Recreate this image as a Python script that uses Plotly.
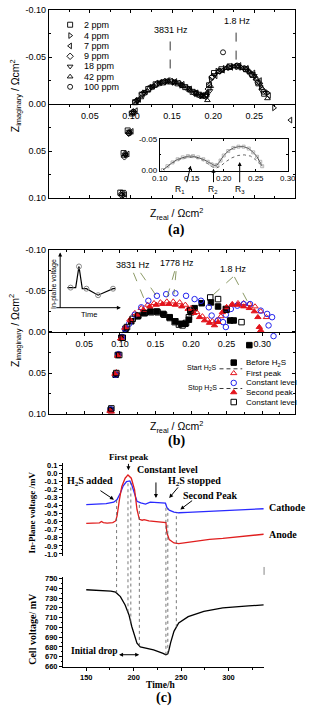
import numpy as np
import plotly.graph_objects as go

W, H = 310, 711
SANS = "Liberation Sans, Arial, sans-serif"
SERIF = "Liberation Serif, Times New Roman, serif"

# ---------------- Panel (a) data : Nyquist plots for H2S concentrations ----------------
a_names = ["2 ppm", "4 ppm", "7 ppm", "9 ppm", "18 ppm", "42 ppm", "100 ppm"]
a_symbols = ["square-open", "triangle-right-open", "triangle-left-open", "diamond-open",
             "triangle-down-open", "triangle-up-open", "circle-open"]
a_x_2 = [0.087, 0.091, 0.096, 0.101, 0.105, 0.113, 0.121, 0.130, 0.139, 0.148, 0.157, 0.166, 0.175, 0.183, 0.190,
         0.195, 0.201, 0.210, 0.220, 0.230, 0.240, 0.248, 0.255, 0.262]
a_y_2 = [0.094, 0.052, 0.028, 0.010, -0.002, -0.010, -0.016, -0.021, -0.023, -0.024, -0.022, -0.018, -0.013, -0.010, -0.009,
         -0.020, -0.033, -0.037, -0.040, -0.040, -0.037, -0.031, -0.022, -0.011]
a_x_4 = [0.091, 0.094, 0.099, 0.104, 0.108, 0.116, 0.125, 0.134, 0.143, 0.152, 0.161, 0.170, 0.179, 0.186, 0.192,
         0.197, 0.205, 0.214, 0.224, 0.234, 0.243, 0.251, 0.258, 0.266, 0.274]
a_y_4 = [0.097, 0.054, 0.030, 0.008, -0.004, -0.012, -0.018, -0.022, -0.024, -0.023, -0.020, -0.016, -0.011, -0.009, -0.010,
         -0.026, -0.035, -0.038, -0.040, -0.039, -0.035, -0.029, -0.019, -0.012, 0.004]
a_x_7 = [0.093, 0.096, 0.101, 0.106, 0.110, 0.118, 0.127, 0.136, 0.145, 0.154, 0.163, 0.172, 0.180, 0.187, 0.193,
         0.196, 0.203, 0.212, 0.222, 0.232, 0.241, 0.249, 0.257, 0.268, 0.294]
a_y_7 = [0.096, 0.053, 0.029, 0.007, -0.005, -0.013, -0.019, -0.023, -0.025, -0.024, -0.021, -0.016, -0.012, -0.009, -0.012,
         -0.021, -0.030, -0.036, -0.039, -0.041, -0.038, -0.033, -0.025, -0.009, 0.017]
a_x_9 = [0.089, 0.092, 0.097, 0.102, 0.106, 0.114, 0.123, 0.132, 0.141, 0.150, 0.159, 0.168, 0.177, 0.184, 0.191,
         0.194, 0.199, 0.208, 0.218, 0.228, 0.238, 0.246, 0.253, 0.260]
a_y_9 = [0.095, 0.056, 0.031, 0.009, -0.003, -0.011, -0.017, -0.022, -0.024, -0.024, -0.022, -0.017, -0.012, -0.009, -0.008,
         -0.016, -0.029, -0.035, -0.039, -0.040, -0.038, -0.032, -0.026, -0.015]
a_x_18 = [0.090, 0.093, 0.098, 0.103, 0.107, 0.115, 0.124, 0.133, 0.142, 0.151, 0.160, 0.169, 0.178, 0.185, 0.192,
          0.196, 0.202, 0.211, 0.221, 0.231, 0.241, 0.250, 0.257, 0.264]
a_y_18 = [0.093, 0.054, 0.029, 0.009, -0.003, -0.011, -0.018, -0.022, -0.024, -0.023, -0.021, -0.017, -0.012, -0.009, -0.009,
          -0.014, -0.031, -0.036, -0.039, -0.040, -0.036, -0.030, -0.021, -0.012]
a_x_42 = [0.088, 0.092, 0.097, 0.102, 0.106, 0.112, 0.120, 0.128, 0.137, 0.146, 0.155, 0.164, 0.173, 0.181, 0.188, 0.193,
          0.197, 0.206, 0.216, 0.226, 0.236, 0.245, 0.252, 0.259, 0.266]
a_y_42 = [0.096, 0.055, 0.030, 0.010, -0.001, -0.007, -0.014, -0.019, -0.023, -0.024, -0.023, -0.019, -0.014, -0.010, -0.008, -0.004,
          -0.019, -0.034, -0.038, -0.040, -0.038, -0.034, -0.027, -0.017, -0.006]
a_x_100 = [0.089, 0.093, 0.098, 0.103, 0.108, 0.117, 0.126, 0.135, 0.144, 0.153, 0.162, 0.171, 0.179, 0.186, 0.192,
           0.198, 0.207, 0.212, 0.219, 0.229, 0.239, 0.247, 0.254, 0.261]
a_y_100 = [0.097, 0.053, 0.031, 0.008, -0.004, -0.012, -0.018, -0.022, -0.024, -0.023, -0.020, -0.016, -0.012, -0.009, -0.010,
           -0.028, -0.035, -0.055, -0.039, -0.041, -0.037, -0.031, -0.023, -0.013]
a_xs = [a_x_2, a_x_4, a_x_7, a_x_9, a_x_18, a_x_42, a_x_100]
a_ys = [a_y_2, a_y_4, a_y_7, a_y_9, a_y_18, a_y_42, a_y_100]

# inset of (a): measured vs fitted
ins_x_fit = [0.105, 0.112, 0.120, 0.128, 0.136, 0.144, 0.152, 0.160, 0.168, 0.175, 0.181, 0.186, 0.190, 0.195,
             0.200, 0.207, 0.215, 0.223, 0.231, 0.239, 0.246, 0.252, 0.257, 0.260]
ins_y_fit = [-0.001, -0.007, -0.013, -0.018, -0.021, -0.023, -0.023, -0.021, -0.018, -0.014, -0.010, -0.008, -0.009, -0.016,
             -0.024, -0.031, -0.036, -0.038, -0.038, -0.035, -0.029, -0.022, -0.014, -0.007]
ins_x_dot = [0.105, 0.115, 0.125, 0.135, 0.145, 0.155, 0.165, 0.175, 0.182, 0.188, 0.195, 0.203, 0.212, 0.222,
             0.232, 0.242, 0.250, 0.257, 0.260]
ins_y_dot = [-0.001, -0.009, -0.015, -0.019, -0.021, -0.021, -0.018, -0.011, -0.006, -0.004, -0.007, -0.014, -0.020, -0.024,
             -0.025, -0.023, -0.017, -0.010, -0.005]

# ---------------- Panel (b) data ----------------
b_names = ["Before H<sub>2</sub>S", "First peak", "Constant level", "Second peak", "Constant level"]
b_x_before = [0.087, 0.094, 0.097, 0.102, 0.108, 0.116, 0.125, 0.134, 0.143, 0.152, 0.161, 0.170, 0.178, 0.186, 0.192,
              0.197, 0.200, 0.205, 0.215, 0.228, 0.238, 0.249, 0.255, 0.260, 0.282]
b_y_before = [0.095, 0.052, 0.028, 0.007, -0.004, -0.013, -0.019, -0.023, -0.025, -0.025, -0.022, -0.018, -0.013, -0.010, -0.010,
              -0.015, -0.024, -0.029, -0.035, -0.036, -0.031, -0.028, -0.014, -0.014, 0.016]
b_x_first = [0.088, 0.095, 0.098, 0.103, 0.108, 0.114, 0.121, 0.130, 0.139, 0.148, 0.157, 0.166, 0.175, 0.184, 0.192,
             0.200, 0.208, 0.216, 0.223, 0.230, 0.236, 0.242, 0.250, 0.258, 0.266, 0.274, 0.282, 0.290, 0.298, 0.306]
b_y_first = [0.097, 0.049, 0.027, 0.006, -0.006, -0.015, -0.023, -0.029, -0.033, -0.035, -0.036, -0.037, -0.037, -0.036, -0.033,
             -0.029, -0.024, -0.019, -0.015, -0.013, -0.014, -0.019, -0.030, -0.034, -0.035, -0.035, -0.034, -0.031, -0.025, -0.018]
b_x_const1 = [0.087, 0.094, 0.098, 0.103, 0.107, 0.113, 0.121, 0.130, 0.140, 0.152, 0.165, 0.178, 0.193, 0.205, 0.214,
              0.225, 0.229, 0.238, 0.245, 0.249, 0.249, 0.256, 0.265, 0.274, 0.283, 0.298, 0.307, 0.309, 0.314, 0.316]
b_y_const1 = [0.094, 0.052, 0.027, 0.006, -0.004, -0.010, -0.021, -0.030, -0.038, -0.044, -0.046, -0.047, -0.044, -0.040, -0.038,
              -0.030, -0.020, -0.014, -0.012, -0.006, -0.021, -0.028, -0.032, -0.034, -0.034, -0.026, -0.022, -0.008, -0.018, 0.005]
b_x_second = [0.086, 0.093, 0.097, 0.101, 0.107, 0.115, 0.124, 0.133, 0.142, 0.151, 0.160, 0.169, 0.178, 0.187, 0.196,
              0.204, 0.212, 0.219, 0.226, 0.233, 0.238, 0.244, 0.250, 0.258, 0.266, 0.274, 0.282, 0.289, 0.294, 0.296, 0.298]
b_y_second = [0.096, 0.051, 0.029, 0.008, -0.005, -0.014, -0.021, -0.027, -0.031, -0.033, -0.034, -0.034, -0.033, -0.031, -0.028,
              -0.023, -0.018, -0.014, -0.011, -0.008, -0.012, -0.024, -0.030, -0.033, -0.033, -0.031, -0.029, -0.025, -0.018, -0.006, -0.002]
b_x_const2 = [0.088, 0.095, 0.099, 0.104, 0.110, 0.118, 0.126, 0.135, 0.144, 0.153, 0.162, 0.170, 0.177, 0.183, 0.188,
              0.193, 0.197, 0.199, 0.227, 0.238, 0.250, 0.271]
b_y_const2 = [0.093, 0.050, 0.028, 0.007, -0.006, -0.016, -0.020, -0.023, -0.024, -0.024, -0.021, -0.017, -0.012, -0.009, -0.008,
              -0.011, -0.018, -0.026, -0.042, -0.040, -0.027, -0.012]
b_xs = [b_x_before, b_x_first, b_x_const1, b_x_second, b_x_const2]
b_ys = [b_y_before, b_y_first, b_y_const1, b_y_second, b_y_const2]
b_symbols = ["square", "triangle-up-open", "circle-open", "triangle-up", "square-open"]
b_colors = ["black", "#e3141c", "#2424ee", "#e3141c", "black"]

# schematic in-plane voltage vs time (inset of b)
sch_t = [1.2, 1.75, 2.6, 3.15, 3.7, 4.4, 6.35, 8.85, 9.2]
sch_v = [3.7, 3.7, 3.7, 7.6, 3.5, 3.5, 2.3, 3.5, 3.5]
sch_mark_t = [1.75, 3.15, 4.4, 6.35, 8.85]
sch_mark_v = [3.7, 7.6, 3.5, 2.3, 3.5]

# ---------------- Panel (c) data ----------------
cath_t = [150, 160, 168, 171, 179, 182.5, 186, 189, 192.5, 196, 198, 201, 203.5, 207.5, 212.5, 217.5, 227.5, 233.5,
          235, 237.5, 242.5, 247.5, 257, 267.5, 280, 294, 310, 325, 337]
cath_v = [-0.385, -0.38, -0.37, -0.374, -0.355, -0.323, -0.24, -0.15, -0.097, -0.089, -0.139, -0.262, -0.343, -0.364, -0.378,
          -0.355, -0.362, -0.368, -0.42, -0.454, -0.478, -0.487, -0.481, -0.474, -0.466, -0.458, -0.45, -0.443, -0.437]
anode_t = [150, 158, 164, 166, 168, 172, 178, 181, 182.5, 185, 187.5, 191, 194, 197.5, 201, 203.5, 206, 209, 211, 216, 222,
           227.5, 234, 235, 237.5, 242.5, 247.5, 257, 267.5, 280, 294, 310, 325, 337]
anode_v = [-0.62, -0.618, -0.612, -0.595, -0.61, -0.615, -0.61, -0.589, -0.527, -0.323, -0.158, -0.056, -0.015, -0.056, -0.2,
           -0.446, -0.569, -0.58, -0.572, -0.589, -0.595, -0.601, -0.61, -0.733, -0.822, -0.864, -0.872, -0.855, -0.835, -0.82,
           -0.807, -0.79, -0.772, -0.755]
cell_t = [150, 167.5, 176, 181, 186, 191, 195, 198, 201, 203.5, 207, 211.5, 221, 231, 234, 236, 237, 239, 242.5, 247.5,
          257.5, 274, 294, 321, 337]
cell_v = [738.5, 738, 737, 736, 731.5, 723, 713, 701, 691, 684, 680, 679, 677, 673.5, 672, 673, 676, 684.5, 696, 704.5,
          711, 716.5, 720, 722, 723]
event_t = [182, 194, 197, 206, 234, 236, 245]

# ---------------- geometry helpers ----------------
def dx(p0, p1):
    return [p0 / W, p1 / W]

def dy(top, bottom):
    return [1 - bottom / H, 1 - top / H]

def to_paper(v, dom, rng):
    return dom[0] + (v - rng[0]) / (rng[1] - rng[0]) * (dom[1] - dom[0])

A_X, A_Y = dx(43, 303), dy(5, 196)
A_XR, A_YR = [0, 0.30], [0.10, -0.10]
AI_X, AI_Y = dx(160, 295), dy(136, 168)
AI_XR, AI_YR = [0.10, 0.30], [0.0, -0.05]
B_X, B_Y = dx(43, 303), dy(248.3, 415)
B_XR, B_YR = [0, 0.3467], [0.10, -0.10]
S_X, S_Y = dx(55, 118), dy(252, 307)
C1_X, C1_Y = dx(58, 270), dy(465, 559)
C_XR, C1_YR = [125.5, 337.5], [-1.028, 0.128]
C2_X, C2_Y = dx(58, 270), dy(580, 671)
C2_YR = [660, 751.7]

fig = go.Figure()
blk = "black"

# (a) series
for nm, sym, xs, ys in zip(a_names, a_symbols, a_xs, a_ys):
    fig.add_trace(go.Scatter(x=xs, y=ys, mode="markers", name=nm, xaxis="x", yaxis="y", showlegend=False,
                             marker=dict(symbol=sym, size=5, color=blk, line=dict(width=0.9, color=blk))))
fig.add_trace(go.Scatter(x=[0.1477, 0.1477], y=[-0.0665, -0.0277], mode="lines", xaxis="x", yaxis="y",
                         line=dict(color=blk, width=0.8, dash="dash"), showlegend=False))
fig.add_trace(go.Scatter(x=[0.2279, 0.2279], y=[-0.0759, -0.0424], mode="lines", xaxis="x", yaxis="y",
                         line=dict(color=blk, width=0.8, dash="dash"), showlegend=False))
fig.add_trace(go.Scatter(x=[0.1], y=[0], mode="markers", xaxis="x2", yaxis="y", marker=dict(opacity=0),
                         showlegend=False, hoverinfo="skip"))
# (a) inset
fig.add_trace(go.Scatter(x=ins_x_dot, y=ins_y_dot, mode="lines", xaxis="x3", yaxis="y3", showlegend=False,
                         line=dict(color="#666", width=1, dash="dot")))
fig.add_trace(go.Scatter(x=ins_x_fit, y=ins_y_fit, mode="lines+markers", xaxis="x3", yaxis="y3", showlegend=False,
                         line=dict(color="#444", width=1),
                         marker=dict(symbol="square-open", size=3, color="#999", line=dict(width=0.7, color="#999"))))

# (b) series
for nm, sym, col, xs, ys in zip(b_names, b_symbols, b_colors, b_xs, b_ys):
    fig.add_trace(go.Scatter(x=xs, y=ys, mode="markers", name=nm, xaxis="x4", yaxis="y4", showlegend=False,
                             marker=dict(symbol=sym, size=5.5, color=col, line=dict(width=1, color=col))))
GRN = "#6f8040"
b_freq_lines = [([0.119, 0.136], [-0.072, -0.036]), ([0.129, 0.156], [-0.072, -0.038]),
                ([0.177, 0.163], [-0.074, -0.032]), ([0.179, 0.176], [-0.074, -0.046]),
                ([0.259, 0.227], [-0.067, -0.042]), ([0.261, 0.280], [-0.067, -0.036])]
for xs, ys in b_freq_lines:
    fig.add_trace(go.Scatter(x=xs, y=ys, mode="lines", xaxis="x4", yaxis="y4", showlegend=False,
                             line=dict(color=GRN, width=0.8, dash="dash")))
fig.add_trace(go.Scatter(x=[0.1], y=[0], mode="markers", xaxis="x5", yaxis="y4", marker=dict(opacity=0),
                         showlegend=False, hoverinfo="skip"))
# (b) schematic inset
fig.add_trace(go.Scatter(x=sch_t, y=sch_v, mode="lines", xaxis="x6", yaxis="y6", showlegend=False,
                         line=dict(color=blk, width=1.2)))
fig.add_trace(go.Scatter(x=sch_mark_t, y=sch_mark_v, mode="markers", xaxis="x6", yaxis="y6", showlegend=False,
                         marker=dict(symbol="circle-open", size=5, color="#888", line=dict(width=1, color="#888"))))

# (c)
fig.add_trace(go.Scatter(x=cath_t, y=cath_v, mode="lines", xaxis="x7", yaxis="y7", showlegend=False,
                         line=dict(color="#2a2aff", width=1.3)))
fig.add_trace(go.Scatter(x=anode_t, y=anode_v, mode="lines", xaxis="x7", yaxis="y7", showlegend=False,
                         line=dict(color="#e01e1e", width=1.3)))
fig.add_trace(go.Scatter(x=cell_t, y=cell_v, mode="lines", xaxis="x8", yaxis="y8", showlegend=False,
                         line=dict(color=blk, width=1.3)))

# legends drawn on a pixel overlay
leg_a_rows = [20, 31, 41.5, 52, 62.3, 72.7, 83]
for sym, py in zip(a_symbols, leg_a_rows):
    fig.add_trace(go.Scatter(x=[65.5], y=[py], mode="markers", xaxis="x9", yaxis="y9", showlegend=False, cliponaxis=False,
                             marker=dict(symbol=sym, size=5, color=blk, line=dict(width=0.9, color=blk))))
leg_b_rows = [362.7, 373.5, 383.3, 392.9, 402.7]
for sym, col, py in zip(b_symbols, b_colors, leg_b_rows):
    fig.add_trace(go.Scatter(x=[238], y=[py], mode="markers", xaxis="x9", yaxis="y9", showlegend=False, cliponaxis=False,
                             marker=dict(symbol=sym, size=5.5, color=col, line=dict(width=1, color=col))))
for py in [369, 389]:
    fig.add_trace(go.Scatter(x=[223, 247], y=[py, py], mode="lines", xaxis="x9", yaxis="y9", showlegend=False,
                             line=dict(color=blk, width=0.8, dash="4px,3px")))

# ---------------- axes ----------------
base = dict(showgrid=False, zeroline=False, linecolor=blk, linewidth=1, tickcolor=blk, tickwidth=1)
tf9 = dict(size=9, family=SANS, color=blk)
tf8b = dict(size=7.5, family=SANS, color=blk, weight="bold")

def lab(vals, fmt="{:.2f}"):
    return [fmt.format(v) for v in vals]

a_yt = [-0.10, -0.05, 0.0, 0.05, 0.10]
c_yt = [round(0.1 - 0.1 * i, 1) for i in range(12)]
lay = dict(
    xaxis=dict(base, domain=A_X, range=A_XR, anchor="y", showline=True, mirror="ticks", ticks="inside", ticklen=3,
               tickmode="linear", tick0=0, dtick=0.05, showticklabels=False,
               minor=dict(ticks="inside", ticklen=2, tickmode="linear", tick0=0, dtick=0.025)),
    xaxis2=dict(base, overlaying="x", anchor="free", position=to_paper(0, A_Y, A_YR), range=A_XR, side="bottom",
                showline=True, ticks="outside", ticklen=3, tickmode="array",
                tickvals=[0.05, 0.10, 0.15, 0.20, 0.25], ticktext=lab([0.05, 0.10, 0.15, 0.20, 0.25]), tickfont=tf9,
                minor=dict(ticks="outside", ticklen=2, tickmode="linear", tick0=0, dtick=0.025)),
    yaxis=dict(base, domain=A_Y, range=A_YR, anchor="x", showline=True, mirror="ticks", ticks="inside", ticklen=3,
               tickmode="array", tickvals=a_yt, ticktext=lab(a_yt), tickfont=tf9,
               minor=dict(ticks="inside", ticklen=2, tickmode="linear", tick0=0, dtick=0.025)),
    xaxis3=dict(base, domain=AI_X, range=AI_XR, anchor="y3", showline=True, mirror="ticks", ticks="inside", ticklen=2,
                tickmode="array", tickvals=[0.10, 0.15, 0.20, 0.25, 0.30], ticktext=lab([0.10, 0.15, 0.20, 0.25, 0.30]),
                tickfont=dict(size=8, family=SANS, color=blk)),
    yaxis3=dict(base, domain=AI_Y, range=AI_YR, anchor="x3", showline=True, mirror="ticks", ticks="inside", ticklen=2,
                tickmode="array", tickvals=[-0.05, 0.0], ticktext=lab([-0.05, 0.0]),
                tickfont=dict(size=8, family=SANS, color=blk),
                minor=dict(ticks="inside", ticklen=1.5, tickmode="linear", tick0=0, dtick=0.025)),
    xaxis4=dict(base, domain=B_X, range=B_XR, anchor="y4", showline=True, mirror="ticks", ticks="inside", ticklen=3,
                tickmode="linear", tick0=0, dtick=0.05, showticklabels=False,
                minor=dict(ticks="inside", ticklen=2, tickmode="linear", tick0=0, dtick=0.025)),
    xaxis5=dict(base, overlaying="x4", anchor="free", position=to_paper(0, B_Y, B_YR), range=B_XR, side="bottom",
                showline=True, ticks="outside", ticklen=3, tickmode="array",
                tickvals=[0.05, 0.10, 0.15, 0.20, 0.25, 0.30], ticktext=lab([0.05, 0.10, 0.15, 0.20, 0.25, 0.30]),
                tickfont=tf9, minor=dict(ticks="outside", ticklen=2, tickmode="linear", tick0=0, dtick=0.025)),
    yaxis4=dict(base, domain=B_Y, range=B_YR, anchor="x4", showline=True, mirror="ticks", ticks="inside", ticklen=3,
                tickmode="array", tickvals=a_yt, ticktext=lab(a_yt), tickfont=tf9,
                minor=dict(ticks="inside", ticklen=2, tickmode="linear", tick0=0, dtick=0.025)),
    xaxis6=dict(domain=S_X, range=[0, 10], anchor="y6", visible=False),
    yaxis6=dict(domain=S_Y, range=[0, 10], anchor="x6", visible=False),
    xaxis7=dict(domain=C1_X, range=C_XR, anchor="y7", visible=False),
    yaxis7=dict(base, domain=C1_Y, range=C1_YR, anchor="x7", showline=True, ticks="outside", ticklen=3,
                tickmode="array", tickvals=c_yt, ticktext=lab(c_yt, "{:.1f}"), tickfont=tf8b,
                minor=dict(ticks="outside", ticklen=1.5, tickmode="linear", tick0=0, dtick=0.05)),
    xaxis8=dict(base, domain=C2_X, range=C_XR, anchor="y8", showline=True, ticks="outside", ticklen=3,
                tickmode="array", tickvals=[150, 200, 250, 300], ticktext=["150", "200", "250", "300"], tickfont=tf8b,
                minor=dict(ticks="outside", ticklen=2, tickmode="linear", tick0=0, dtick=25)),
    yaxis8=dict(base, domain=C2_Y, range=C2_YR, anchor="x8", showline=True, ticks="outside", ticklen=3,
                tickmode="linear", tick0=660, dtick=10, tickfont=tf8b,
                minor=dict(ticks="outside", ticklen=1.5, tickmode="linear", tick0=0, dtick=5)),
    xaxis9=dict(domain=[0, 1], range=[0, W], anchor="y9", visible=False, fixedrange=True),
    yaxis9=dict(domain=[0, 1], range=[H, 0], anchor="x9", visible=False, fixedrange=True),
)

# ---------------- annotations ----------------
def T(text, px, py, size=9, family=SANS, xa="center", ya="middle", angle=0, weight="normal"):
    return dict(text=text, x=px / W, y=1 - py / H, xref="paper", yref="paper", showarrow=False,
                font=dict(size=size, family=family, color=blk, weight=weight), xanchor=xa, yanchor=ya,
                textangle=angle)

def ARW(hx, hy, tx, ty, side="end", head=2, size=0.8):
    return dict(text="", x=hx / W, y=1 - hy / H, xref="paper", yref="paper", showarrow=True,
                ax=tx - hx, ay=ty - hy, axref="pixel", ayref="pixel", arrowhead=head, arrowsize=size,
                arrowwidth=1, arrowcolor=blk, arrowside=side, startarrowhead=head, startarrowsize=size)

anns = []
for nm, py in zip(a_names, leg_a_rows):
    anns.append(T(nm, 78, py, 9, xa="left"))
anns += [
    T("3831 Hz", 172, 25.7, 9), T("1.8 Hz", 241.7, 16, 9),
    T("Z<sub>imaginary</sub> / Ωcm<sup>2</sup>", 8, 92, 10.5, angle=-90),
    T("Z<sub>real</sub> / Ωcm<sup>2</sup>", 178, 212, 10.5),
    T("(a)", 178, 228.5, 14, SERIF, weight="bold"),
    T("R<sub>1</sub>", 181, 187, 8.5), T("R<sub>2</sub>", 216, 187, 8.5), T("R<sub>3</sub>", 245, 187, 8.5),
    ARW(192.7, 163, 188.3, 181), ARW(216.7, 166, 216.7, 181), ARW(244.3, 159.3, 244.3, 181),
    T("3831 Hz", 132, 264, 9), T("1778 Hz", 178, 262, 9), T("1.8 Hz", 238, 268, 9),
    T("Start H<sub>2</sub>S", 222, 368.5, 7, xa="right"), T("Stop H<sub>2</sub>S", 222, 388.5, 7, xa="right"),
    T("In-plane voltage", 48.5, 283, 7, angle=-90), T("Time", 85, 313.5, 7.5),
    ARW(55, 251, 55, 308), ARW(119, 307, 53, 307),
    T("Z<sub>imaginary</sub> / Ωcm<sup>2</sup>", 8, 330, 10.5, angle=-90),
    T("Z<sub>real</sub> / Ωcm<sup>2</sup>", 178, 428.5, 10.5),
    T("(b)", 178, 442, 14, SERIF, weight="bold"),
]
for nm, py in zip(b_names, leg_b_rows):
    anns.append(T(nm, 249, py, 8, xa="left"))
anns += [
    T("First peak", 127, 458, 9, SERIF, weight="bold"), ARW(127, 472, 127, 464),
    T("Constant level", 134, 471, 10, SERIF, xa="left", weight="bold"), ARW(156, 500, 156, 483),
    T("H<sub>2</sub>S added", 86, 483.5, 10, SERIF, weight="bold"), ARW(111.7, 501.7, 96.7, 491.7),
    T("H<sub>2</sub>S stopped", 197, 483.5, 10, SERIF, weight="bold"), ARW(170, 500, 180, 488),
    T("Second Peak", 214, 497.5, 10, SERIF, weight="bold"), ARW(181.7, 511.7, 195, 501.7),
    T("Cathode", 273, 510, 10, SERIF, xa="left", weight="bold"),
    T("Anode", 273, 537, 10, SERIF, xa="left", weight="bold"),
    T("Initial drop", 90.8, 655, 9.5, SERIF, weight="bold"), ARW(138.3, 659, 116.7, 659, side="end+start"),
    T("In-Plane voltage /mV", 25, 515, 9, SERIF, angle=-90, weight="bold"),
    T("Cell voltage/ mV", 25, 633, 10, SERIF, angle=-90, weight="bold"),
    T("Time/h", 161, 690, 9.5, SERIF, weight="bold"),
    T("(c)", 165, 703, 14, SERIF, weight="bold"),
]

# dashed event lines in (c) linking the in-plane and cell voltage curves
shapes = []
for t in event_t:
    xp = to_paper(t, C2_X, C_XR)
    ytop = to_paper(float(np.interp(t, cath_t, cath_v)), C1_Y, C1_YR)
    ybot = to_paper(float(np.interp(t, cell_t, cell_v)), C2_Y, C2_YR)
    shapes.append(dict(type="line", xref="paper", yref="paper", x0=xp, x1=xp, y0=ybot, y1=ytop,
                       line=dict(color="#555", width=0.8, dash="dot")))
shapes.append(dict(type="line", xref="paper", yref="paper", x0=270 / W, x1=270 / W, y0=1 - 578 / H, y1=1 - 570 / H,
                   line=dict(color="#666", width=0.8)))

fig.update_layout(width=W, height=H, autosize=False, margin=dict(l=0, r=0, t=0, b=0),
                  paper_bgcolor="white", plot_bgcolor="rgba(0,0,0,0)", showlegend=False,
                  annotations=anns, shapes=shapes, **lay)
fig.write_html("out.html", config={"displayModeBar": False})
